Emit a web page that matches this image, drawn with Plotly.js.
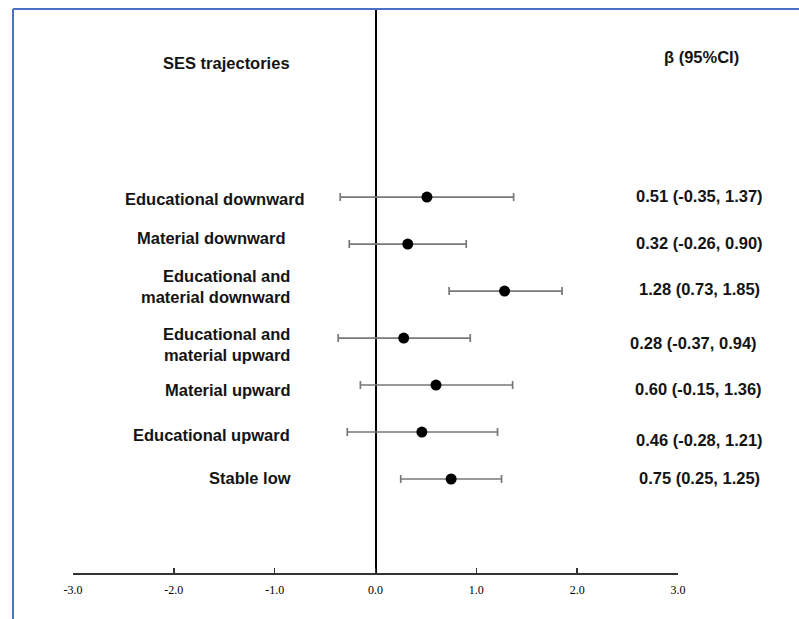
<!DOCTYPE html>
<html>
<head>
<meta charset="utf-8">
<script src="https://cdn.plot.ly/plotly-3.0.1.min.js"></script>
<style>
  html, body { margin: 0; padding: 0; background: #ffffff; }
  #chart { width: 799px; height: 619px; }
</style>
</head>
<body>
<div id="chart"></div>
<script>
// ---- data ----
const categories = [
  "Educational downward",
  "Material downward",
  "Educational and<br>material downward",
  "Educational and<br>material upward",
  "Material upward",
  "Educational upward",
  "Stable low"
];
const beta = [0.51, 0.32, 1.28, 0.28, 0.60, 0.46, 0.75];
const ciLow = [-0.35, -0.26, 0.73, -0.37, -0.15, -0.28, 0.25];
const ciHigh = [1.37, 0.90, 1.85, 0.94, 1.36, 1.21, 1.25];
const tickValues = [-3, -2, -1, 0, 1, 2, 3];
const tickLabels = ["-3.0", "-2.0", "-1.0", "0.0", "1.0", "2.0", "3.0"];
const headerLeft = "SES trajectories";
const headerRight = "β (95%CI)";

// ---- layout helpers (pixel geometry) ----
const W = 799, H = 619;
const M = { l: 73, r: 121, t: 10, b: 46 };
const PW = W - M.l - M.r, PH = H - M.t - M.b;
const px2x = p => (p - M.l) / PW;
const px2y = p => (H - M.b - p) / PH;

const rows = categories.map((_, i) => i);
const fmt = v => v.toFixed(2);
const valueText = beta.map((b, i) => `${fmt(b)} (${fmt(ciLow[i])}, ${fmt(ciHigh[i])})`);

// small per-row text nudges (style only)
const leftXShift = [15, -4, 0, 0, 1, 0, 1];
const leftYShift = [-2, 6, 5, -6, -5, -3, 1];
const rightXShift = [0, 0, 0, -6, -1, 0, 0];
const rightYShift = [1, 1, 2, -5, -4, -8, 1];

const labelFont = { family: "Liberation Sans, Arial, sans-serif", size: 16.5, color: "#141414", weight: "bold" };

const trace = {
  type: "scatter",
  mode: "markers",
  x: beta,
  y: rows,
  marker: { color: "#000000", size: 11 },
  error_x: {
    type: "data",
    symmetric: false,
    array: beta.map((b, i) => ciHigh[i] - b),
    arrayminus: beta.map((b, i) => b - ciLow[i]),
    color: "#787878",
    thickness: 1.7,
    width: 4
  },
  hoverinfo: "skip",
  showlegend: false
};

const annotations = [];
categories.forEach((c, i) => {
  annotations.push({
    xref: "paper", yref: "y",
    x: px2x(292), y: i,
    xanchor: "right", yanchor: "middle", align: "right",
    text: c, showarrow: false,
    xshift: leftXShift[i], yshift: leftYShift[i],
    font: labelFont
  });
  annotations.push({
    xref: "paper", yref: "y",
    x: px2x(699), y: i,
    xanchor: "center", yanchor: "middle", align: "center",
    text: valueText[i], showarrow: false,
    xshift: rightXShift[i], yshift: rightYShift[i],
    font: labelFont
  });
});
annotations.push({
  xref: "paper", yref: "paper", x: px2x(226.5), y: px2y(63),
  xanchor: "center", yanchor: "middle", text: headerLeft, showarrow: false, font: labelFont
});
annotations.push({
  xref: "paper", yref: "paper", x: px2x(701.5), y: px2y(57),
  xanchor: "center", yanchor: "middle", text: headerRight, showarrow: false, font: labelFont
});

const borderColor = "#4a70c8";
const shapes = [
  { type: "line", xref: "paper", yref: "paper", x0: px2x(13), x1: px2x(800), y0: px2y(9), y1: px2y(9),
    line: { color: borderColor, width: 2 } },
  { type: "line", xref: "paper", yref: "paper", x0: px2x(13), x1: px2x(13), y0: px2y(9), y1: px2y(620),
    line: { color: borderColor, width: 2 } }
];

const layout = {
  width: W, height: H,
  margin: M,
  paper_bgcolor: "#ffffff",
  plot_bgcolor: "#ffffff",
  showlegend: false,
  xaxis: {
    range: [-3, 3],
    tickmode: "array",
    tickvals: tickValues,
    ticktext: tickLabels,
    showgrid: false,
    zeroline: true,
    zerolinecolor: "#000000",
    zerolinewidth: 2,
    showline: true,
    linecolor: "#333333",
    linewidth: 2,
    ticks: "inside",
    ticklen: 5,
    tickwidth: 1.5,
    tickcolor: "#333333",
    ticklabelstandoff: 5,
    tickfont: { family: "Liberation Serif, Times New Roman, serif", size: 12, color: "#000000" },
    fixedrange: true
  },
  yaxis: {
    range: [8.0, -3.98],
    showgrid: false,
    zeroline: false,
    showline: false,
    showticklabels: false,
    ticks: "",
    fixedrange: true
  },
  annotations: annotations,
  shapes: shapes
};

Plotly.newPlot("chart", [trace], layout, { displayModeBar: false, staticPlot: true });
</script>
</body>
</html>
